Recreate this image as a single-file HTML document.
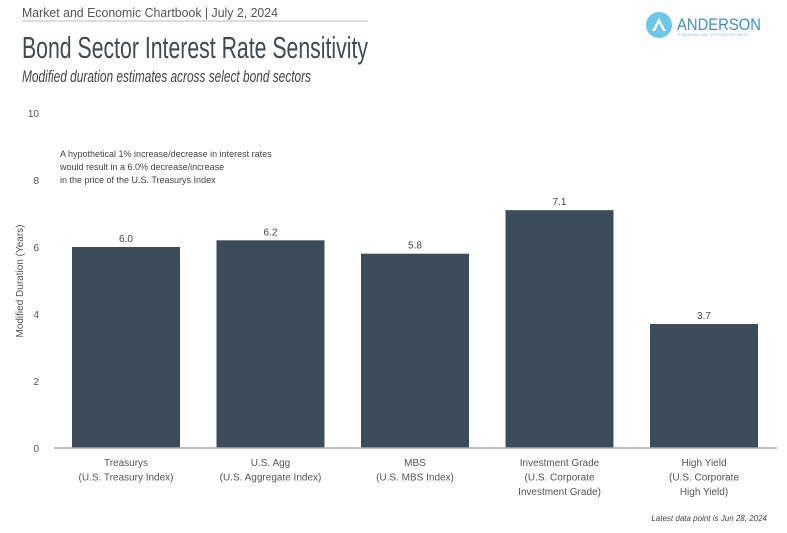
<!DOCTYPE html>
<html><head><meta charset="utf-8"><style>
html,body{margin:0;padding:0;background:#fff;}
svg{display:block;font-family:"Liberation Sans",sans-serif;}
</style></head><body>
<svg width="787" height="533" viewBox="0 0 787 533">
<text x="22" y="17" font-size="13" fill="#555" textLength="256" lengthAdjust="spacingAndGlyphs">Market and Economic Chartbook | July 2, 2024</text>
<line x1="22" y1="21" x2="368" y2="21" stroke="#bbb" stroke-width="1"/>
<text x="22" y="58" font-size="31" fill="#444a50" textLength="346" lengthAdjust="spacingAndGlyphs">Bond Sector Interest Rate Sensitivity</text>
<text x="22" y="82" font-size="17" font-style="italic" fill="#444" textLength="289" lengthAdjust="spacingAndGlyphs">Modified duration estimates across select bond sectors</text>
<g>
<circle cx="659" cy="25" r="13" fill="#6cc6ea"/>
<path d="M652 31 L659 18 L666 31 L663 31 L659 23 L655 31 Z" fill="#fff"/>
<text x="677" y="30" font-size="17" fill="#3d8fc8" textLength="84" lengthAdjust="spacingAndGlyphs">ANDERSON</text>
<text x="678" y="36" font-size="4" fill="#8bbfe0" textLength="70" lengthAdjust="spacingAndGlyphs">FINANCIAL STRATEGIES</text>
</g>
<g font-size="9" fill="#444">
<text x="60" y="157">A hypothetical 1% increase/decrease in interest rates</text>
<text x="60" y="170">would result in a 6.0% decrease/increase</text>
<text x="60" y="183">in the price of the U.S. Treasurys Index</text>
</g>
<text transform="translate(23,281) rotate(-90)" text-anchor="middle" font-size="10" fill="#555">Modified Duration (Years)</text>
<g id="yticks"></g>
<g id="bars"></g>
<line x1="54" y1="448" x2="777" y2="448" stroke="#aaa" stroke-width="1.5"/>
<text x="767" y="521" text-anchor="end" font-size="8" font-style="italic" fill="#444">Latest data point is Jun 28, 2024</text>
</svg>
<script>
const categories = [["Treasurys","(U.S. Treasury Index)"],["U.S. Agg","(U.S. Aggregate Index)"],["MBS","(U.S. MBS Index)"],["Investment Grade","(U.S. Corporate","Investment Grade)"],["High Yield","(U.S. Corporate","High Yield)"]];
const values = [6.0, 6.2, 5.8, 7.1, 3.7];
const valueLabels = ["6.0","6.2","5.8","7.1","3.7"];
const yTicks = [0,2,4,6,8,10];
const NS="http://www.w3.org/2000/svg";
function y(v){return 448 - v*33.5;}
function xStart(i){return 72 + i*144.5;}
const bw=108;
const yt=document.getElementById('yticks');
yTicks.forEach(t=>{
  const e=document.createElementNS(NS,'text');
  
  
  e.setAttribute('x',39);e.setAttribute('y',y(t)+4);e.setAttribute('text-anchor','end');
  e.setAttribute('font-size','10');e.setAttribute('fill','#555');e.textContent=t;yt.appendChild(e);
});
const bg=document.getElementById('bars');
values.forEach((v,i)=>{
  const r=document.createElementNS(NS,'rect');
  
  
  r.setAttribute('x',xStart(i));r.setAttribute('y',y(v));r.setAttribute('width',bw);r.setAttribute('height',448-y(v));
  r.setAttribute('fill','#3c4c5b');bg.appendChild(r);
  const cx=xStart(i)+bw/2;
  const l=document.createElementNS(NS,'text');
  
  
  l.setAttribute('x',cx);l.setAttribute('y',y(v)-5);l.setAttribute('text-anchor','middle');
  l.setAttribute('font-size','10');l.setAttribute('fill','#444');l.textContent=valueLabels[i];bg.appendChild(l);
  categories[i].forEach((s,k)=>{
    const c=document.createElementNS(NS,'text');
    
    
    c.setAttribute('x',cx);c.setAttribute('y',466+k*14.5);c.setAttribute('text-anchor','middle');
    c.setAttribute('font-size','10');c.setAttribute('fill','#555');c.textContent=s;bg.appendChild(c);
  });
});
</script>
</body></html>
